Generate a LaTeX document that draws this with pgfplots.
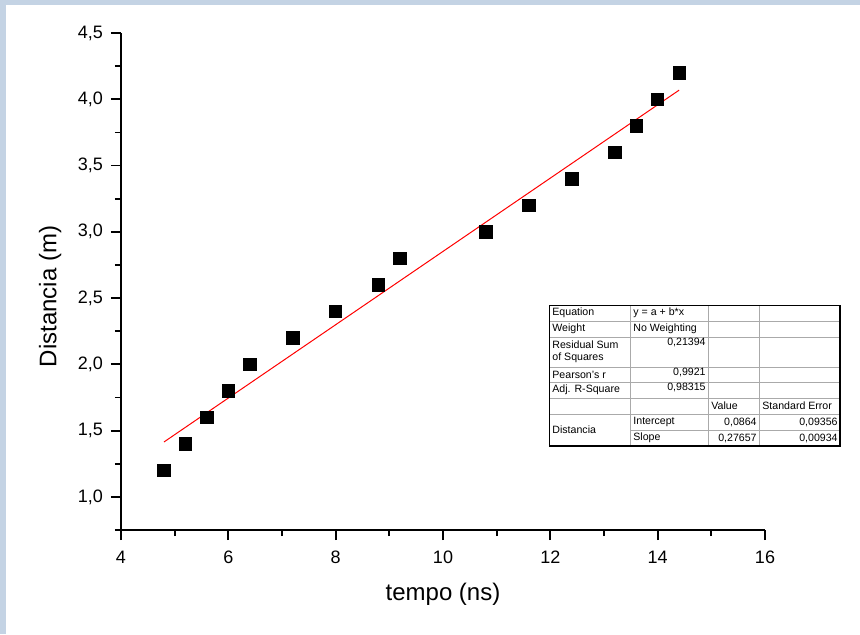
\documentclass[border=0pt]{standalone}
\usepackage{pgfplots}
\pgfplotsset{compat=1.18}
\usepackage{fontspec}
\setmainfont{Liberation Sans}
\definecolor{bgblue}{RGB}{196,211,228}
\definecolor{gridgray}{RGB}{170,170,170}
\newcommand{\tf}{\fontsize{5.3}{6}\selectfont}

\begin{document}
\begin{tikzpicture}
% screenshot frame
\fill[bgblue] (-60.5pt,-52pt) rectangle (369.5pt,265pt);
\fill[white] (-57.5pt,-52pt) rectangle (369.5pt,262.5pt);
\useasboundingbox (-60.5pt,-52pt) rectangle (369.5pt,265pt);

\begin{axis}[
  at={(0pt,0pt)}, anchor=south west,
  scale only axis, width=322pt, height=248.5pt,
  xmin=4, xmax=16, ymin=0.75, ymax=4.5,
  axis x line=bottom, axis y line=left,
  axis line style={-, line width=1pt, black},
  xtick={4,6,...,16}, minor x tick num=1,
  ytick={0.5,1,...,4.5}, minor y tick num=1,
  tick align=outside,
  major tick length=5pt, minor tick length=3pt,
  every tick/.style={black, line width=0.9pt},
  /pgf/number format/assume math mode=true,
  ticklabel style={font=\fontsize{9}{10}\selectfont},
  yticklabel style={xshift=-0.5pt, /pgf/number format/.cd, fixed, fixed zerofill, precision=1, use comma},
  xticklabel style={yshift=-2pt},
  xlabel={tempo (ns)}, ylabel={Distancia (m)},
  label style={font=\fontsize{12}{14}\selectfont},
  xlabel style={at={(axis description cs:0.5,-0.129)}, anchor=center},
  ylabel style={at={(axis description cs:-0.110,0.47)}, anchor=center},
  clip=false,
]
\addplot[red, line width=0.5pt] coordinates {(4.8,1.414) (14.4,4.069)};
\addplot[only marks, mark=square*, mark size=3.1pt, black] coordinates {
  (4.8,1.2) (5.2,1.4) (5.6,1.6) (6.0,1.8) (6.4,2.0) (7.2,2.2)
  (8.0,2.4) (8.8,2.6) (9.2,2.8) (10.8,3.0) (11.6,3.2) (12.4,3.4)
  (13.2,3.6) (13.6,3.8) (14.0,4.0) (14.4,4.2)
};
\end{axis}

% fit results table
\fill[white] (214pt,42pt) rectangle (359.5pt,112.5pt);
\begin{scope}[gridgray, line width=0.4pt]
  \foreach \y in {104.5,96.5,81.5,74,66,58} \draw (214pt,\y pt) -- (359.5pt,\y pt);
  \draw (254.5pt,50pt) -- (359.5pt,50pt);
  \foreach \x in {254.5,293.5,319} \draw (\x pt,42pt) -- (\x pt,112.5pt);
\end{scope}
\draw[black, line width=0.5pt] (214pt,42pt) rectangle (359.5pt,112.5pt);
\draw[black, line width=0.9pt] (214pt,42pt) -- (359.5pt,42pt) -- (359.5pt,112.5pt);

\begin{scope}[every node/.style={font=\tf, inner sep=0pt}]
  \node[anchor=west] at (215.5pt,108.5pt) {Equation};
  \node[anchor=west] at (256pt,108.5pt) {y = a + b*x};
  \node[anchor=west] at (215.5pt,100.5pt) {Weight};
  \node[anchor=west] at (256pt,100.5pt) {No Weighting};
  \node[anchor=west] at (215.5pt,92.5pt) {Residual Sum};
  \node[anchor=west] at (215.5pt,86pt) {of Squares};
  \node[anchor=east] at (292.5pt,94pt) {0,21394};
  \node[anchor=west] at (215.5pt,77.75pt) {Pearson's r};
  \node[anchor=east] at (292.5pt,79pt) {0,9921};
  \node[anchor=west] at (215.5pt,70pt) {Adj. R-Square};
  \node[anchor=east] at (292.5pt,71.5pt) {0,98315};
  \node[anchor=west] at (295pt,62pt) {Value};
  \node[anchor=west] at (320.5pt,62pt) {Standard Error};
  \node[anchor=west] at (215.5pt,50pt) {Distancia};
  \node[anchor=west] at (256pt,54pt) {Intercept};
  \node[anchor=east] at (318pt,54pt) {0,0864};
  \node[anchor=east] at (358.5pt,54pt) {0,09356};
  \node[anchor=west] at (256pt,46pt) {Slope};
  \node[anchor=east] at (318pt,46pt) {0,27657};
  \node[anchor=east] at (358.5pt,46pt) {0,00934};
\end{scope}
\end{tikzpicture}
\end{document}
